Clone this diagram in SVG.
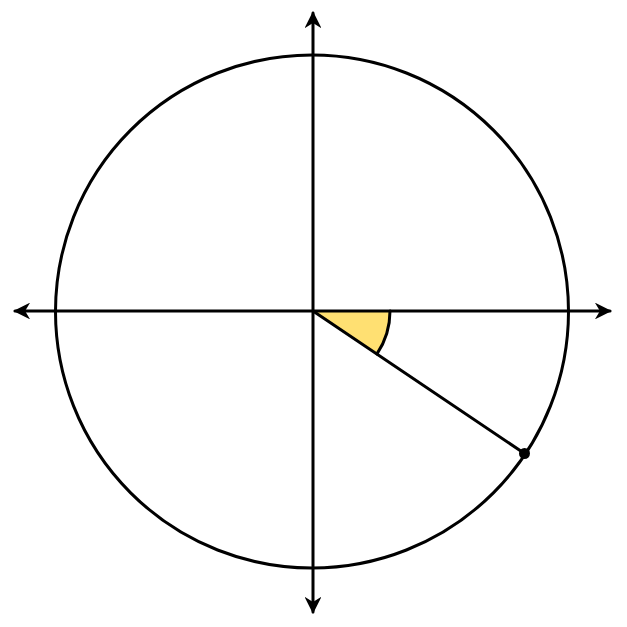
<svg xmlns="http://www.w3.org/2000/svg" width="627" height="627" viewBox="0 0 627 627">
<defs>
<marker id="arr" viewBox="0 0 10 10" refX="9" refY="5" markerWidth="5.6" markerHeight="5.6" markerUnits="strokeWidth" orient="auto-start-reverse">
<path d="M0,0 L10,5 L0,10 L3,5 Z" fill="#000"/>
</marker>
<style>
.ln{stroke:#000;stroke-width:3;fill:none;stroke-linecap:round}
</style>
</defs>
<rect width="627" height="627" fill="#fff"/>
<g id="angle">
<path d="M313,311 L390,311 A77,77 0 0,1 377,353.9 Z" fill="#FFE072"/>
<path d="M390,311 A77,77 0 0,1 377,353.9" class="ln"/>
</g>
<g id="circle">
<circle cx="312" cy="311.5" r="256.5" class="ln"/>
</g>
<g id="connectors">
<line x1="313" y1="612" x2="313" y2="13" class="ln" marker-start="url(#arr)" marker-end="url(#arr)"/>
<line x1="15" y1="311" x2="610" y2="311" class="ln" marker-start="url(#arr)" marker-end="url(#arr)"/>
<line x1="313" y1="311" x2="524.5" y2="453.5" class="ln"/>
</g>
<g id="point">
<circle cx="524.5" cy="453.5" r="5.5" fill="#000"/>
</g>
</svg>
